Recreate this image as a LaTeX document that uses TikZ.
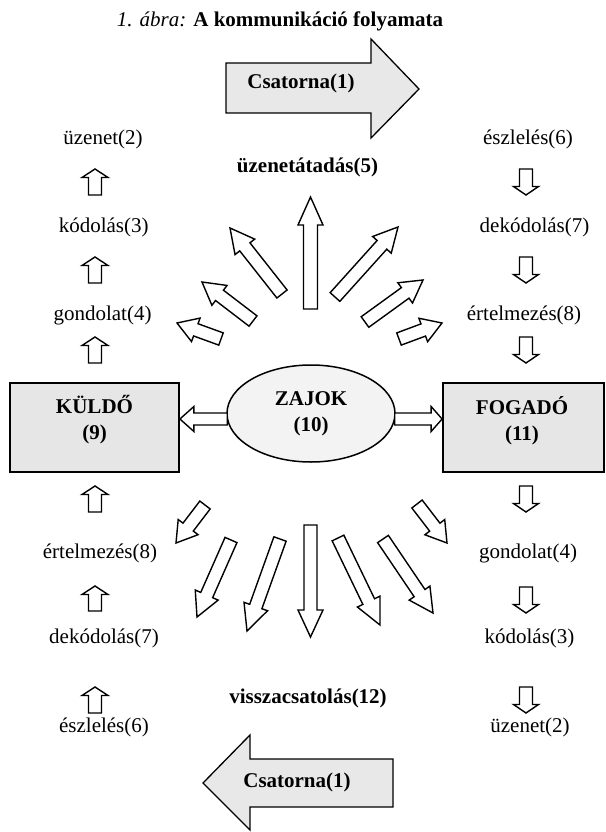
\documentclass[tikz,border=0pt]{standalone}
\usepackage{fontspec}
\setmainfont{Liberation Serif}
\usetikzlibrary{calc,shapes.geometric}
\definecolor{boxfill}{HTML}{E6E6E6}
\definecolor{ellfill}{HTML}{F3F3F3}
\definecolor{bigfill}{HTML}{E8E8E8}
\newcommand\barr[6][]{%
  \path ($(#3)!#6!(#2)$) coordinate (hb);
  \draw[barrowline,#1] ($(#2)!#4!90:(#3)$) -- ($(hb)!#4!90:(#3)$) -- ($(hb)!#5!90:(#3)$) -- (#3)
     -- ($(hb)!#5!-90:(#3)$) -- ($(hb)!#4!-90:(#3)$) -- ($(#2)!#4!-90:(#3)$) -- cycle;}
\begin{document}
\begin{tikzpicture}[x=1pt,y=-1pt,
  txt/.style={font=\fontsize{21}{26}\selectfont, text height=14.5pt, text depth=4.5pt, inner sep=0pt},
  btxt/.style={txt, font=\fontsize{21}{26}\selectfont\bfseries},
  ctxt/.style={font=\fontsize{21}{26}\selectfont\bfseries, align=center, inner sep=0pt},
  sbox/.style={draw, line width=1.8pt, fill=boxfill, minimum width=#1, minimum height=89pt, inner sep=0pt},
  barrowline/.style={draw, line width=1.4pt, fill=white, line join=miter},
  bigarrow/.style={draw, line width=1.3pt, fill=bigfill, line join=miter}]
\useasboundingbox (0,0) rectangle (605,832);
% title
\node[txt] (title) at (280,21.5) {\textit{1. ábra:} \textbf{A kommunikáció folyamata}};
% top channel arrow
\draw[bigarrow] (226,63) -- (371,63) -- (371,39) -- (419,89) -- (371,138) -- (371,113) -- (226,113) -- cycle;
\node[btxt] (csat1) at (301,84) {Csatorna(1)};
% bottom channel arrow
\draw[bigarrow] (393,759) -- (250,759) -- (250,735) -- (203,783) -- (250,830) -- (250,807) -- (393,807) -- cycle;
\node[btxt] (csat2) at (297,782) {Csatorna(1)};
\node[btxt] (atadas) at (307.5,167) {üzenetátadás(5)};
\node[btxt] (vissza) at (308,698) {visszacsatolás(12)};
% boxes and ellipse
\node[sbox=169pt] (kuldo) at (94.5,427.5) {};
\node[ctxt] (kuldot) at ([yshift=8pt]kuldo.center) {KÜLDŐ\\(9)};
\node[sbox=161pt] (fogado) at (523.5,427.5) {};
\node[ctxt] (fogadot) at ([yshift=7pt,xshift=-1.5pt]fogado.center) {FOGADÓ\\(11)};
\node[draw, line width=1.5pt, fill=ellfill, ellipse, minimum width=168pt, minimum height=97pt, inner sep=0pt] (zaj) at (311,413.5) {};
\node[ctxt] (zajt) at (zaj.center) {ZAJOK\\(10)};
% left column
\node[txt] (u2L) at (103,139) {üzenet(2)};
\node[txt] (k3L) at (103.7,227) {kódolás(3)};
\node[txt] (g4L) at (102.5,315) {gondolat(4)};
\node[txt] (e8L) at (100,553) {értelmezés(8)};
\node[txt] (d7L) at (104,638) {dekódolás(7)};
\node[txt] (e6L) at (104,727) {észlelés(6)};
% right column
\node[txt] (e6R) at (528,139) {észlelés(6)};
\node[txt] (d7R) at (534.5,227) {dekódolás(7)};
\node[txt] (e8R) at (524,315) {értelmezés(8)};
\node[txt] (g4R) at (528,553) {gondolat(4)};
\node[txt] (k3R) at (529.5,638) {kódolás(3)};
\node[txt] (u2R) at (530,727) {üzenet(2)};
% small column arrows
\foreach \a/\b in {195/169, 283/257, 363/337, 512/486, 611/586, 713/687}
  {\barr{95,\a}{95,\b}{6.5pt}{13pt}{8.5pt}}
\foreach \a/\b in {169/195, 257/283, 337/363, 486/512, 587/613, 687/713}
  {\barr{526,\a}{526,\b}{6.5pt}{12.5pt}{8.5pt}}
% horizontal arrows from ZAJOK to boxes
\coordinate (lt) at ([yshift=-5.5pt,xshift=1pt]zaj.west);
\coordinate (rt) at ([yshift=-5.5pt,xshift=-1pt]zaj.east);
\barr{lt}{kuldo.east |- lt}{6pt}{12.5pt}{14pt}
\barr{rt}{fogado.west |- rt}{6pt}{12.5pt}{11pt}
% upper fan
\barr{310.5,309}{310.5,197}{7pt}{12.5pt}{28pt}
\barr{282,294}{230,228}{6.5pt}{12.5pt}{24pt}
\barr{253,321}{202,282}{6.5pt}{12.5pt}{22pt}
\barr{221,339}{177,323}{6.5pt}{12.5pt}{20pt}
\barr{335,297}{398,227}{6.5pt}{12.5pt}{24pt}
\barr{365,322}{423,280}{6.5pt}{12.5pt}{22pt}
\barr{399,339}{442,323}{6.5pt}{12.5pt}{20pt}
% lower fan
\barr{310.5,525}{310.5,637}{6.5pt}{12.5pt}{27pt}
\barr{205,505}{176,543}{6.5pt}{12.5pt}{20pt}
\barr{231,540}{197,617}{6.5pt}{12.5pt}{24pt}
\barr{280,539}{247,631}{6.5pt}{12.5pt}{26pt}
\barr{338,538}{380,625}{6.5pt}{12.5pt}{26pt}
\barr{383,539}{433,613}{6.5pt}{12.5pt}{24pt}
\barr{417,504}{447,543}{6.5pt}{12.5pt}{20pt}
\end{tikzpicture}
\end{document}
